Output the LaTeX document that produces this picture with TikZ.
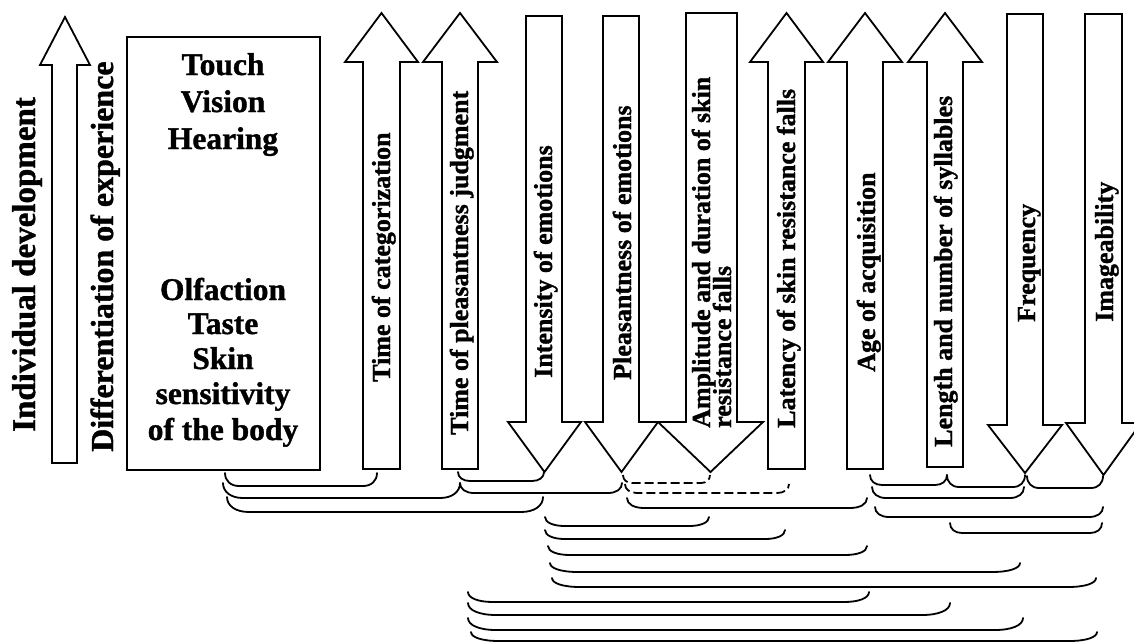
\documentclass[tikz,border=0pt]{standalone}
\usepackage{fontspec}
\setmainfont{Liberation Serif}[BoldFeatures={FakeBold=1.2}]
\tikzset{
  shapeline/.style={draw=black, line width=1.8pt, line join=miter, fill=white},
  brk/.style={draw=black, line width=1.8pt, line cap=round},
  dbrk/.style={draw=black, line width=1.8pt, dash pattern=on 9pt off 4pt},
  lab/.style={rotate=90, anchor=base west, inner sep=0pt, font=\bfseries\fontsize{26}{22}\selectfont},
  biglab/.style={rotate=90, anchor=base west, inner sep=0pt, font=\bfseries\fontsize{33}{36}\selectfont},
  boxtxt/.style={anchor=base, inner sep=0pt, font=\bfseries\fontsize{31.5}{36}\selectfont},
}
% up arrow: sl sr hl hr tipy basey bottomy
\newcommand\upArrowPath[7]{%
  \draw[shapeline] (#1,#7) -- (#1,#6) -- (#3,#6) -- ({(#3+#4)/2},#5) -- (#4,#6) -- (#2,#6) -- (#2,#7) -- cycle;}
% down arrow: sl sr hl hr topy basey tipy
\newcommand\downArrowPath[7]{%
  \draw[shapeline] (#1,#5) -- (#2,#5) -- (#2,#6) -- (#4,#6) -- ({(#3+#4)/2},#7) -- (#3,#6) -- (#1,#6) -- cycle;}
% bracket: style xl xr ytop ybot r
\newcommand\brkPath[6]{%
  \draw[#1] (#2,#4) .. controls (#2,{#4+0.6*(#5-#4)}) and ({#2+0.4*#6},#5) .. ({#2+#6},#5) -- ({#3-#6},#5)
     .. controls ({#3-0.4*#6},#5) and (#3,{#4+0.6*(#5-#4)}) .. (#3,#4);}
\begin{document}
\begin{tikzpicture}[x=1pt,y=-1pt]
\useasboundingbox[fill=white] (0,0) rectangle (1134,643);

% left arrow and box
\upArrowPath{52}{77}{40}{90}{17}{65}{463}
\node[biglab] (indiv) at (35,432) {Individual development};
\node[biglab,font=\bfseries\fontsize{32}{36}\selectfont] (diff) at (113,452) {Differentiation of experience};
\draw[shapeline] (127,37) rectangle (320,470);
\node[boxtxt] (t1) at (223,75) {Touch};
\node[boxtxt] (t2) at (223,112) {Vision};
\node[boxtxt] (t3) at (223,149) {Hearing};
\node[boxtxt] (t4) at (223,300) {Olfaction};
\node[boxtxt] (t5) at (223,334) {Taste};
\node[boxtxt] (t6) at (223,369) {Skin};
\node[boxtxt] (t7) at (223,404) {sensitivity};
\node[boxtxt] (t8) at (223,440) {of the body};

% up arrows
\upArrowPath{363}{400}{345}{418}{13}{62}{469}
\upArrowPath{442}{478}{423}{497}{13}{62}{469}
\upArrowPath{768}{805}{750}{823}{13}{62}{469}
\upArrowPath{847}{883}{828}{902}{13}{62}{469}
\upArrowPath{927}{963}{908}{982}{13}{62}{467}
% down arrows
\downArrowPath{526}{562}{508}{581}{16}{422}{472}
\downArrowPath{603}{639}{585}{658}{16}{422}{472}
\downArrowPath{686}{737}{658}{763}{13}{422}{472}
\downArrowPath{1007}{1043}{988}{1062}{14}{425}{473}
\downArrowPath{1085}{1122}{1066}{1141}{14}{423}{475}

% arrow labels
\node[lab] (cat) at (390,382) {Time of categorization};
\node[lab] (plj) at (468,435) {Time of pleasantness judgment};
\node[lab] (inte) at (552,378) {Intensity of emotions};
\node[lab] (plem) at (631,380) {Pleasantness of emotions};
\node[lab] (amp1) at (710,428) {Amplitude and duration of skin};
\node[lab] (amp2) at (731,428) {resistance falls};
\node[lab] (lat) at (795,428) {Latency of skin resistance falls};
\node[lab] (age) at (875,372) {Age of acquisition};
\node[lab] (len) at (952,447) {Length and number of syllables};
\node[lab] (freq) at (1035,322) {Frequency};
\node[lab] (imag) at (1113,322) {Imageability};

% brackets, upper group
\brkPath{brk}{225}{377}{473}{486}{14}
\brkPath{brk}{458}{544}{472}{481}{12}
\brkPath{brk}{223}{460}{483}{498}{20}
\brkPath{brk}{460}{622}{483}{493}{14}
\brkPath{brk}{227}{543}{497}{512}{22}
\brkPath{dbrk}{623}{710}{475}{483}{9}
\brkPath{dbrk}{625}{789}{484}{493}{12}
\brkPath{brk}{627}{867}{498}{508}{17}
\brkPath{brk}{870}{947}{475}{485}{12}
\brkPath{brk}{947}{1025}{475}{487}{12}
\brkPath{brk}{1027}{1103}{476}{488}{12}
\brkPath{brk}{872}{1024}{487}{498}{14}
\brkPath{brk}{875}{1103}{507}{517}{14}
\brkPath{brk}{950}{1102}{523}{533}{12}
% brackets, lower groups
\brkPath{brk}{545}{709}{517}{526}{20}
\brkPath{brk}{545}{785}{530}{539}{20}
\brkPath{brk}{548}{867}{546}{555}{22}
\brkPath{brk}{550}{1020}{563}{572}{28}
\brkPath{brk}{552}{1096}{578}{587}{28}
\brkPath{brk}{468}{869}{592}{602}{25}
\brkPath{brk}{468}{950}{603}{615}{28}
\brkPath{brk}{468}{1023}{618}{630}{28}
\brkPath{brk}{471}{1097}{632}{641}{28}
\end{tikzpicture}
\end{document}
